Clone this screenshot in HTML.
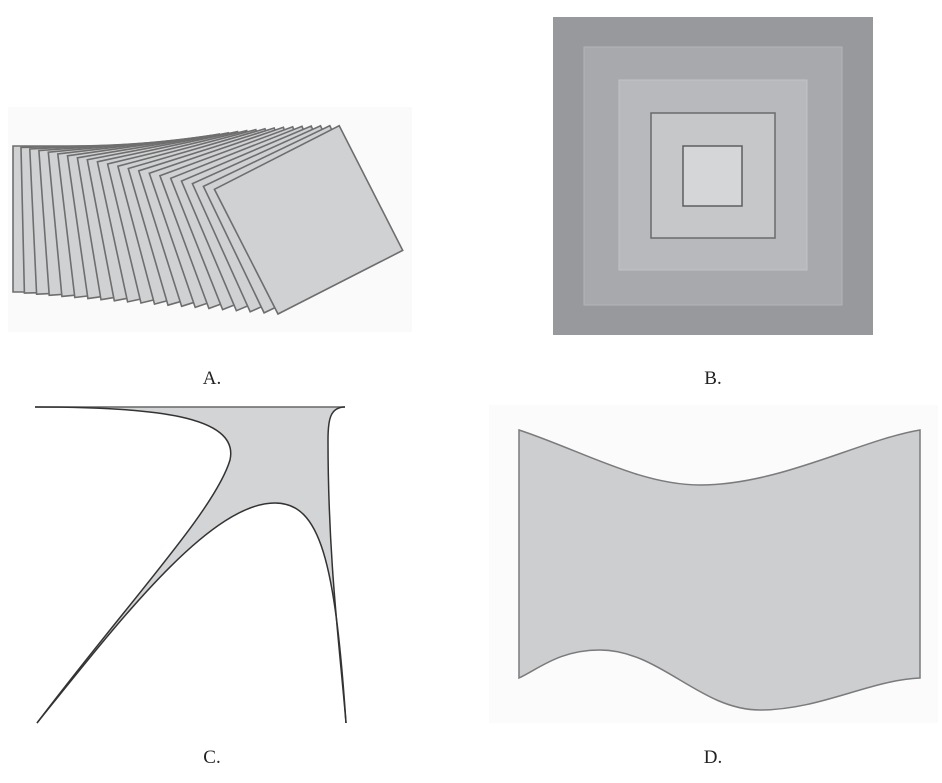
<!DOCTYPE html>
<html><head><meta charset="utf-8"><style>
html,body{margin:0;padding:0;background:#fff;}
svg{display:block}
text{font-family:"Liberation Serif",serif;font-size:19px;fill:#222}
</style></head><body>
<svg width="942" height="783" viewBox="0 0 942 783" xmlns="http://www.w3.org/2000/svg">
<rect x="8" y="107" width="404" height="225" fill="#fafafa"/>
<g id="cards" fill="#d0d1d3" stroke="#6e6e6e" stroke-width="1.6"></g>
<!-- B -->
<rect x="553" y="17" width="320" height="318" fill="#98999d"/>
<rect x="584" y="47" width="258" height="258" fill="#a8a9ad" stroke="#b4b5b8" stroke-width="1"/>
<rect x="619" y="80" width="188" height="190" fill="#b8b9bc" stroke="#c2c3c5" stroke-width="1"/>
<rect x="651" y="113" width="124" height="125" fill="#c6c7c9" stroke="#6a6a6c" stroke-width="1.5"/>
<rect x="683" y="146" width="59" height="60" fill="#d5d6d8" stroke="#5f5f61" stroke-width="1.5"/>
<!-- C -->
<path d="M35,407 L345,407 C330,407 328,420 328,440 C328,560 340,650 346,723 C335,560 320,503 275,503 C210,503 120,620 37,723 C130,600 215,510 230,460 C240,415 150,407 35,407 Z" fill="#d3d4d6"/>
<g fill="none" stroke="#333" stroke-width="1.5">
<path d="M35,407 L345,407" stroke="#666"/>
<path d="M35,407 C150,407 240,415 230,460 C215,510 130,600 37,723"/>
<path d="M345,407 C330,407 328,420 328,440 C328,560 340,650 346,723"/>
<path d="M37,723 C120,620 210,503 275,503 C320,503 335,560 346,723"/>
</g>
<!-- D -->
<rect x="489" y="405" width="449" height="318" fill="#fbfbfb"/>
<path d="M519,430 C580,450 640,485 700,485 C780,485 860,440 920,430 L920,678 C870,680 820,710 760,710 C700,710 660,650 600,650 C560,650 540,668 519,678 Z" fill="#cdced0" stroke="#7b7b7d" stroke-width="1.5"/>
<text x="212" y="384" text-anchor="middle">A.</text>
<text x="713" y="384" text-anchor="middle">B.</text>
<text x="212" y="763" text-anchor="middle">C.</text>
<text x="713" y="763" text-anchor="middle">D.</text>
</svg>
<script>
(function(){
var g=document.getElementById('cards'),N=20,s='';
for(var i=0;i<=N;i++){
 var t=i/N;
 var bx=13+(278-13)*Math.pow(t,1.05), by=292+(314-292)*t;
 var a=-27*t*Math.PI/180;
 var side=146-6*t;
 var ux=Math.cos(a),uy=Math.sin(a);
 var vx=Math.sin(a),vy=-Math.cos(a);
 var p=[[bx,by],[bx+ux*side,by+uy*side],[bx+ux*side+vx*side,by+uy*side+vy*side],[bx+vx*side,by+vy*side]];
 s+='<polygon points="'+p.map(function(q){return q[0].toFixed(1)+','+q[1].toFixed(1)}).join(' ')+'"/>';
}
g.innerHTML=s;
})();
</script>
</body></html>
